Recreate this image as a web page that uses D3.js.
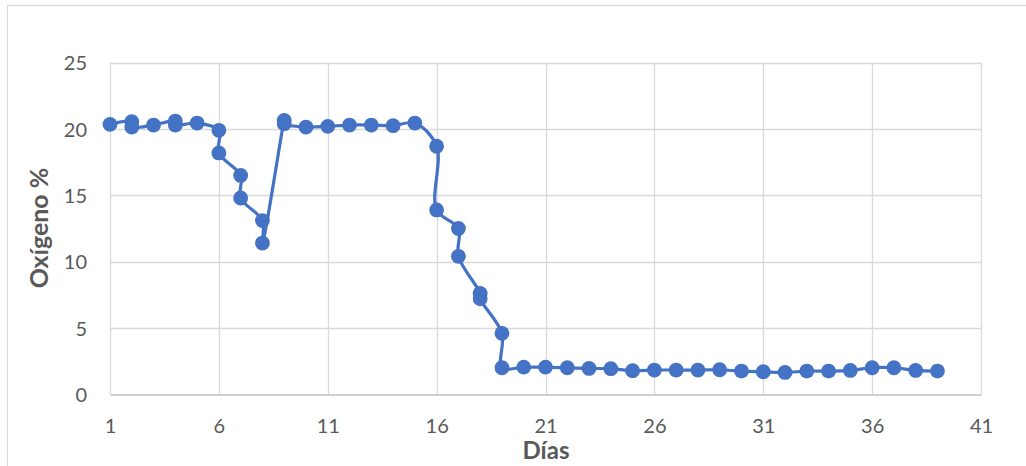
<!DOCTYPE html>
<html>
<head>
<meta charset="utf-8">
<script src="https://cdn.jsdelivr.net/npm/d3@7"></script>
<style>
  html, body { margin: 0; padding: 0; background: #fff; }
  svg { display: block; }
  text { font-family: Lato, "Open Sans", "Liberation Sans", sans-serif; }
</style>
</head>
<body>
<svg id="chart" width="1026" height="466"></svg>
<script>
// Oxygen readings (%) by day; some days have two readings
const dias = [1, 2, 2, 3, 4, 4, 5, 6, 6, 7, 7, 8, 8, 9, 9, 10, 11, 12, 13, 14, 15, 16, 16, 17, 17, 18, 18, 19, 19,
  20, 21, 22, 23, 24, 25, 26, 27, 28, 29, 30, 31, 32, 33, 34, 35, 36, 37, 38, 39];
const oxigeno = [20.35, 20.55, 20.15, 20.3, 20.6, 20.3, 20.45, 19.9, 18.2, 16.5, 14.8, 13.1, 11.4, 20.65, 20.4,
  20.15, 20.2, 20.3, 20.3, 20.25, 20.45, 18.7, 13.9, 12.5, 10.4, 7.6, 7.2, 4.6, 2.0,
  2.05, 2.05, 2.0, 1.95, 1.93, 1.78, 1.83, 1.83, 1.83, 1.85, 1.75, 1.7, 1.65, 1.75, 1.75, 1.8, 2.0, 2.0, 1.8, 1.75];
const xTicks = [1, 6, 11, 16, 21, 26, 31, 36, 41];
const yTicks = [0, 5, 10, 15, 20, 25];

const svg = d3.select("#chart");
const plot = { left: 110, right: 981, top: 62.7, bottom: 394.3 };

const x = d3.scaleLinear().domain([1, 41]).range([plot.left, plot.right]);
const y = d3.scaleLinear().domain([0, 25]).range([plot.bottom, plot.top]);

// outer chart frame
svg.append("rect").attr("x", 7.5).attr("y", 5.5).attr("width", 1030).attr("height", 480)
  .attr("fill", "none").attr("stroke", "#d9d9d9").attr("stroke-width", 1.2);

// gridlines
svg.append("g").selectAll("line").data(yTicks.slice(1)).join("line")
  .attr("x1", plot.left).attr("x2", plot.right)
  .attr("y1", d => Math.round(y(d)) + 0.5).attr("y2", d => Math.round(y(d)) + 0.5)
  .attr("stroke", "#d9d9d9").attr("stroke-width", 1.3);
svg.append("g").selectAll("line").data(xTicks).join("line")
  .attr("x1", d => Math.round(x(d)) + 0.5).attr("x2", d => Math.round(x(d)) + 0.5)
  .attr("y1", plot.top).attr("y2", plot.bottom)
  .attr("stroke", "#d9d9d9").attr("stroke-width", 1.3);

// x axis
const xAxis = svg.append("g").attr("transform", `translate(0,${Math.round(plot.bottom) + 0.5})`)
  .call(d3.axisBottom(x).tickValues(xTicks).tickSize(0));
xAxis.select(".domain").attr("stroke", "#bfbfbf").attr("stroke-width", 1.4);
xAxis.selectAll("text").attr("y", 31).attr("dy", "0.36em")
  .attr("fill", "#595959").style("font-size", "20px");

// y axis
const yAxis = svg.append("g").attr("transform", `translate(${plot.left},0)`)
  .call(d3.axisLeft(y).tickValues(yTicks).tickSize(0).tickPadding(23));
yAxis.select(".domain").remove();
yAxis.selectAll("text").attr("dy", "0.36em").attr("fill", "#595959").style("font-size", "20px");

// axis titles
svg.append("text").attr("x", 546).attr("y", 459).attr("text-anchor", "middle")
  .attr("fill", "#595959").style("font-size", "24px").style("font-weight", "bold").text("Días");
svg.append("text").attr("transform", "translate(48,228) rotate(-90)").attr("text-anchor", "middle")
  .attr("fill", "#595959").style("font-size", "25px").style("font-weight", "bold").text("Oxígeno %");

// series line and markers
const pts = dias.map((d, i) => [d, oxigeno[i]]);
const line = d3.line().x(d => x(d[0])).y(d => y(d[1])).curve(d3.curveCatmullRom.alpha(0.5));
svg.append("path").datum(pts).attr("d", line)
  .attr("fill", "none").attr("stroke", "#4472c4").attr("stroke-width", 3.2).attr("stroke-linejoin", "round");
svg.append("g").selectAll("circle").data(pts).join("circle")
  .attr("cx", d => x(d[0])).attr("cy", d => y(d[1])).attr("r", 7.4)
  .attr("fill", "#4472c4");
</script>
</body>
</html>
